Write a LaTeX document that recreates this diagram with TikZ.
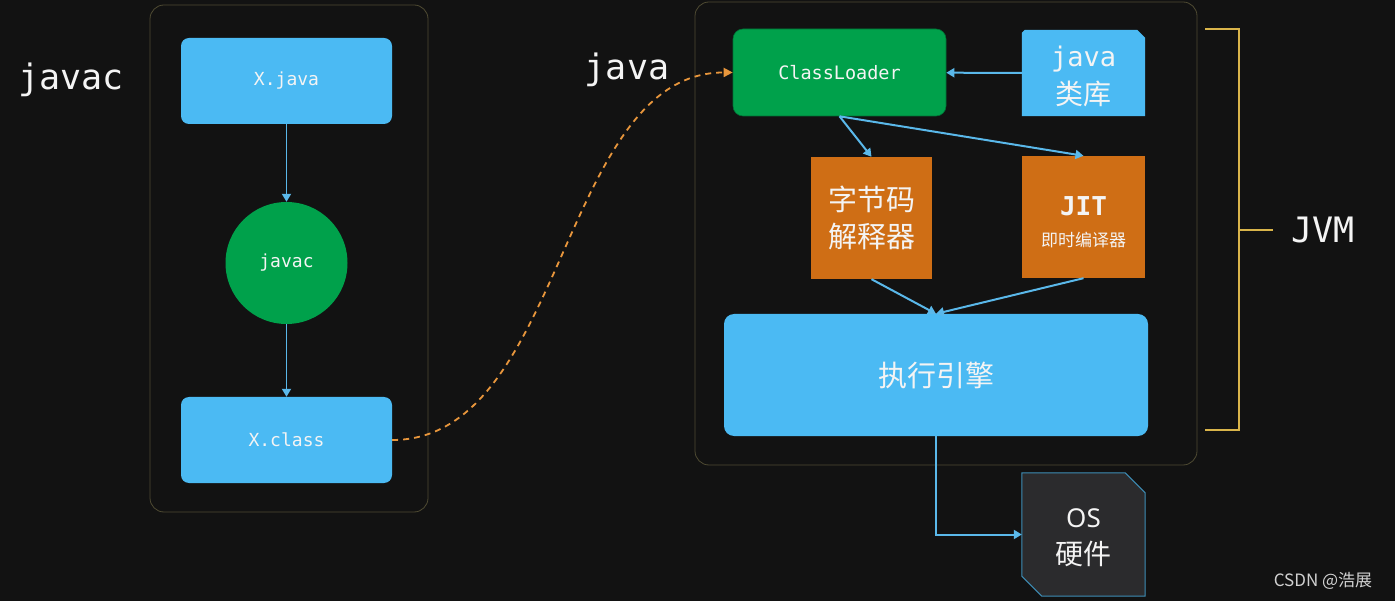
\documentclass[tikz,border=0pt]{standalone}
\usepackage{fontspec}
\setmainfont{Noto Sans}
\newfontfamily\monof{DejaVu Sans Mono}
\newfontfamily\cjkf{Noto Sans CJK SC}
\usetikzlibrary{arrows.meta,calc}
\definecolor{bg}{HTML}{121212}
\definecolor{boxblue}{HTML}{4BBAF3}
\definecolor{boxgreen}{HTML}{00A14B}
\definecolor{boxorange}{HTML}{CF6E15}
\definecolor{arrowblue}{HTML}{5AB8EA}
\definecolor{framecol}{HTML}{4E4A32}
\definecolor{bracketcol}{HTML}{D9B44A}
\definecolor{dashorange}{HTML}{E8963C}
\definecolor{osfill}{HTML}{2B2B2D}
\definecolor{osline}{HTML}{3E8DB5}
\definecolor{txt}{HTML}{F4F4F4}
\begin{document}
\begin{tikzpicture}[x=1pt,y=-1pt,
  bluebox/.style={fill=boxblue, rounded corners=8pt, text=txt, inner sep=0pt, align=center},
  greenbox/.style={fill=boxgreen, draw=boxgreen!70!black, line width=0.6pt, rounded corners=10pt, text=txt, inner sep=0pt, align=center},
  orangebox/.style={fill=boxorange, text=txt, inner sep=0pt, align=center},
  monosmall/.style={font=\monof\fontsize{18}{20}\selectfont},
  biglabel/.style={text=txt, font=\monof\fontsize{35}{40}\selectfont, inner sep=0pt},
  conn/.style={draw=arrowblue, line width=2pt, -{Triangle[length=8pt,width=9pt]}},
  thinconn/.style={draw=arrowblue, line width=1.8pt, -{Triangle[length=8pt,width=9pt]}},
  framebox/.style={draw=framecol, line width=0.8pt, rounded corners=14pt},
]
\fill[bg] (0,0) rectangle (1395,601);
\useasboundingbox (0,0) rectangle (1395,601);

% containers
\draw[framebox] (150,5) rectangle (428,512);
\draw[framebox] (695,2) rectangle (1197,465);

% labels
\node[biglabel] (lbljavac) at (71,80) {javac};
\node[biglabel] (lbljava) at (627,70) {java};
\node[biglabel] (lbljvm) at (1323,230) {JVM};

% left column
\node[bluebox, monosmall, minimum width=211pt, minimum height=86pt] (xjava) at (286.5,81) {X.java};
\node[circle, fill=boxgreen, text=txt, monosmall, minimum size=122pt, inner sep=0pt] (javacc) at (286.5,263) {javac};
\node[bluebox, monosmall, minimum width=211pt, minimum height=86pt] (xclass) at (286.5,440) {X.class};
\draw[thinconn] (xjava) -- (javacc);
\draw[thinconn] (javacc) -- (xclass);

% JVM internals
\node[greenbox, font=\monof\fontsize{18.5}{20}\selectfont, minimum width=213pt, minimum height=87pt] (cl) at (839.5,72.5) {ClassLoader};
\node[minimum width=123pt, minimum height=86pt, inner sep=0pt] (lib) at (1083.5,73) {};
\fill[boxblue] (lib.south west) -- ($(lib.north west)+(0,3)$) -- ($(lib.north west)+(3,0)$) -- ($(lib.north east)+(-8,0)$) -- ($(lib.north east)+(0,8)$) -- (lib.south east) -- cycle;
\node[text=txt, align=center, inner sep=0pt, font=\cjkf\fontsize{28}{38}\selectfont] (libtext) at (1083.5,76) {{\monof\fontsize{27}{38}\selectfont java}\\类库};
\draw[conn] (lib) -- (cl);

\node[orangebox, minimum width=121pt, minimum height=122pt, font=\cjkf\fontsize{29}{37}\selectfont] (interp) at (871.5,218) {字节码\\解释器};
\node[orangebox, minimum width=123pt, minimum height=122pt] (jit) at (1083.5,217) {};
\node[text=txt, align=center, inner sep=0pt, font=\cjkf\fontsize{17}{31}\selectfont] (jittext) at (1083.5,222) {{\monof\bfseries\fontsize{26}{31}\selectfont JIT}\\即时编译器};
\draw[conn] (cl.south) -- (interp.north);
\draw[conn] (cl.south) -- (jit.north);

\node[bluebox, rounded corners=10pt, minimum width=424pt, minimum height=122pt, font=\cjkf\fontsize{29}{34}\selectfont] (engine) at (936,375) {执行引擎};
\draw[conn] (interp.south) -- (engine.north);
\draw[conn] (jit.south) -- (engine.north);

% OS box
\node[minimum width=123pt, minimum height=123pt, inner sep=0pt] (os) at (1083.5,534.5) {};
\draw[fill=osfill, draw=osline, line width=1pt] (os.north west) -- ($(os.north east)+(-20,0)$) -- ($(os.north east)+(0,20)$) -- (os.south east) -- ($(os.south west)+(20,0)$) -- ($(os.south west)+(0,-20)$) -- cycle;
\node[text=txt, align=center, inner sep=0pt, font=\cjkf\fontsize{28}{37}\selectfont] (ostext) at (1083.5,538) {{\rmfamily\fontsize{26}{37}\selectfont OS}\\硬件};
\draw[conn] (engine.south) |- (os.west);

% dashed load path
\draw[draw=dashorange, line width=1.8pt, dash pattern=on 6pt off 5pt, -{Triangle[length=9pt,width=9pt]}]
  (xclass.east) .. controls (565,440) and (560,72) .. (cl.west);

% JVM bracket
\coordinate (brtop) at (1205,29);
\coordinate (brbot) at (1205,430);
\coordinate (brtip) at (1273,230);
\draw[draw=bracketcol, line width=1.5pt] (brtop) -- (1239,29) -- (1239,430) -- (brbot);
\draw[draw=bracketcol, line width=1.5pt] (1239,230) -- (brtip);

% watermark
\node[text=white!82!black, font=\cjkf\fontsize{17}{20}\selectfont, inner sep=0pt] (wm) at (1323,581) {CSDN @浩展};
\end{tikzpicture}
\end{document}
